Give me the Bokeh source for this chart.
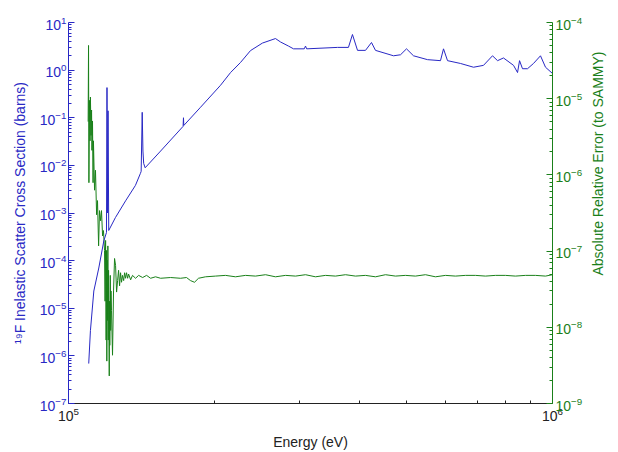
import math
from bokeh.plotting import figure
from bokeh.layouts import row
from bokeh.models import Range1d, LogAxis, LogScale, FixedTicker, LogTickFormatter, Label
from bokeh.embed import file_html
from bokeh.resources import INLINE

# ---- data ----
# 19F inelastic scatter cross section (barns) vs energy (eV)
xs_energy = [110100, 111000, 112800, 115500, 118300, 119800, 120100, 120400, 120700, 121100,
             125000, 131200, 137500, 140800, 141300, 142000, 142500, 143000, 144000, 155000,
             172500, 172800, 173100, 187400, 206100, 216200, 226700, 237700, 251600, 267700,
             274200, 284800, 291700, 307000, 308800, 310500, 359600, 378800, 386100, 395500,
             410800, 422700, 430800, 469400, 485300, 499300, 516200, 551700, 586900, 595400,
             606900, 645500, 686800, 720200, 751700, 770000, 792000, 830800, 846800, 854900,
             867000, 887800, 913600, 944500, 967300, 1000000]
xs_barns = [6.9e-7, 3.4e-6, 2.3e-5, 7.0e-5, 2.6e-4, 3.9e-4, 0.43, 1.0e-3, 0.14, 4.3e-4,
            8.0e-4, 1.8e-3, 3.8e-3, 6.8e-3, 7.5e-3, 0.13, 0.02, 0.011, 8.9e-3, 0.020,
            0.066, 0.10, 0.069, 0.166, 0.48, 0.89, 1.45, 2.57, 3.7, 4.6,
            3.9, 3.2, 2.8, 2.8, 3.2, 2.8, 3.0, 3.0, 5.6, 2.6,
            2.6, 3.8, 2.6, 2.0, 2.1, 2.8, 2.0, 1.66, 1.58, 2.8,
            1.58, 1.38, 1.15, 1.26, 2.0, 1.58, 1.8, 1.26, 0.89, 1.58,
            1.07, 1.07, 1.38, 2.0, 1.15, 0.85]

# absolute relative error (to SAMMY) vs energy (eV)
err_energy = [109800, 110000, 110200, 110500, 110800, 111000, 111300, 111600, 111800, 112100,
              112400, 112600, 113200, 113700, 114300, 114800, 115400, 115900, 116500, 117000,
              117600, 118100, 118700, 119000, 119300, 119600, 119800, 120000, 120200, 120400,
              120600, 120800, 121000, 121200, 121400, 121600, 121700, 122000, 122200, 122400,
              122700, 123300, 123900, 124500, 125100, 125700, 126300, 126900, 127500, 128100,
              128700, 129300, 130000, 130600, 131200, 131800, 132500, 133100, 134400, 135600,
              137600, 139600, 142300, 145000, 147800, 151300, 155000, 162500, 170400, 175300,
              178700, 182100, 185600, 191900, 201300, 211100, 221300, 232100, 243400, 255300,
              267700, 280800, 294500, 308800, 323800, 339600, 356100, 373500, 391700, 410800,
              430800, 451800, 473800, 496800, 521000, 546400, 573000, 601000, 630300, 661000,
              693200, 726900, 762300, 799500, 838400, 879300, 922100, 967300, 1000000]
err_value = [5.0e-6, 5.0e-5, 7.9e-7, 9.5e-6, 2.8e-6, 1.05e-5, 3.3e-6, 7.1e-6, 2.1e-6, 5.1e-6,
             7.9e-7, 2.8e-6, 6.3e-7, 1.15e-6, 3.0e-7, 4.6e-7, 1.17e-7, 3.4e-7, 2.5e-7, 3.4e-7,
             1.58e-7, 1.86e-7, 1.02e-7, 2.2e-8, 1.38e-7, 6.8e-9, 1.02e-7, 3.6e-9, 7.6e-8, 1.23e-8,
             1.17e-7, 6.8e-9, 5.6e-8, 9.1e-9, 2.3e-9, 2.2e-8, 5.8e-9, 4.8e-8, 9.1e-9, 3.0e-8,
             1.66e-8, 4.3e-9, 3.0e-8, 8.0e-8, 6.5e-8, 2.9e-8, 4.1e-8, 5.6e-8, 3.5e-8, 5.2e-8,
             3.9e-8, 4.8e-8, 4.1e-8, 5.2e-8, 4.4e-8, 5.2e-8, 4.4e-8, 5.0e-8, 4.2e-8, 4.8e-8,
             4.4e-8, 4.8e-8, 4.5e-8, 4.8e-8, 4.4e-8, 4.6e-8, 4.4e-8, 4.5e-8, 4.4e-8, 4.5e-8,
             4.1e-8, 3.9e-8, 4.4e-8, 4.6e-8, 4.7e-8, 4.8e-8, 4.6e-8, 4.8e-8, 4.7e-8, 4.9e-8,
             4.6e-8, 4.8e-8, 4.7e-8, 4.9e-8, 4.6e-8, 4.8e-8, 4.7e-8, 4.9e-8, 4.7e-8, 4.8e-8,
             4.6e-8, 4.9e-8, 4.7e-8, 4.8e-8, 4.7e-8, 4.9e-8, 4.6e-8, 4.8e-8, 4.7e-8, 4.8e-8,
             4.8e-8, 4.7e-8, 4.8e-8, 4.8e-8, 4.7e-8, 4.8e-8, 4.8e-8, 4.7e-8, 4.9e-8]

x_major = [1e5, 1e6]
left_exps = list(range(-7, 2))
right_exps = list(range(-9, -3))

x_title = "Energy (eV)"
left_title = "\u00b9\u2079F Inelastic Scatter Cross Section (barns)"
right_title = "Absolute Relative Error (to SAMMY)"

BLUE = "#2828c4"
GREEN = "#1a801a"
FONT = "Liberation Sans"

MAIN_W = 588
H = 452

p = figure(width=MAIN_W, height=H, x_axis_type="log", y_axis_type="log",
           x_range=Range1d(1e5, 1e6), y_range=Range1d(1e-7, 1e1),
           output_backend="svg", toolbar_location=None,
           min_border_left=68, min_border_right=36, min_border_top=22, min_border_bottom=49)
p.outline_line_color = None
p.xgrid.visible = False
p.ygrid.visible = False
p.background_fill_color = "white"
p.border_fill_color = "white"

p.extra_y_ranges = {"err": Range1d(1e-9, 1e-4)}
p.extra_y_scales = {"err": LogScale()}


def style_axis(ax, color, label_standoff, tick_standoff):
    ax.axis_line_color = color
    ax.major_tick_line_color = color
    ax.minor_tick_line_color = color
    ax.major_label_text_color = color
    ax.axis_label_text_color = color
    ax.major_tick_in = 6
    ax.major_tick_out = 0
    ax.minor_tick_in = 3
    ax.minor_tick_out = 0
    ax.major_label_text_font = FONT
    ax.major_label_text_font_size = "14px"
    ax.axis_label_text_font = FONT
    ax.axis_label_text_font_size = "14px"
    ax.axis_label_text_font_style = "normal"
    ax.axis_label_standoff = label_standoff
    ax.major_label_standoff = tick_standoff
    ax.formatter = LogTickFormatter()

# bottom axis
xa = p.xaxis[0]
xa.ticker = FixedTicker(ticks=x_major, minor_ticks=[m * 1e5 for m in range(2, 10)])
style_axis(xa, "#222222", 10, 3)
xa.axis_label = x_title

# left axis
ya = p.yaxis[0]
ya.ticker = FixedTicker(ticks=[10.0 ** e for e in left_exps],
                        minor_ticks=[m * 10.0 ** e for e in left_exps[:-1] for m in range(2, 10)])
style_axis(ya, BLUE, 9, 2)
ya.axis_label = left_title

# right axis
ra = LogAxis(y_range_name="err")
ra.ticker = FixedTicker(ticks=[10.0 ** e for e in right_exps],
                        minor_ticks=[m * 10.0 ** e for e in right_exps[:-1] for m in range(2, 10)])
style_axis(ra, GREEN, 6, 3)
p.add_layout(ra, "right")

p.line(err_energy, err_value, line_color=GREEN, line_width=1, y_range_name="err")
p.line(xs_energy, xs_barns, line_color=BLUE, line_width=1)

# narrow companion panel holding the right-hand title (reads bottom-to-top)
side_w = 618 - MAIN_W
side = figure(width=side_w, height=H, x_range=Range1d(0, 1), y_range=Range1d(0, 1),
              output_backend="svg", toolbar_location=None,
              min_border_left=0, min_border_right=0, min_border_top=0, min_border_bottom=0)
side.axis.visible = False
side.xgrid.visible = False
side.ygrid.visible = False
side.outline_line_color = None
side.background_fill_color = "white"
side.border_fill_color = "white"
side.add_layout(Label(x=9, y=H - 212, x_units="screen", y_units="screen", text=right_title,
                      angle=math.pi / 2, text_align="center", text_baseline="middle",
                      text_color=GREEN, text_font=FONT, text_font_size="14px"))

layout = row(p, side)
open("out.html", "w").write(file_html(layout, INLINE))
